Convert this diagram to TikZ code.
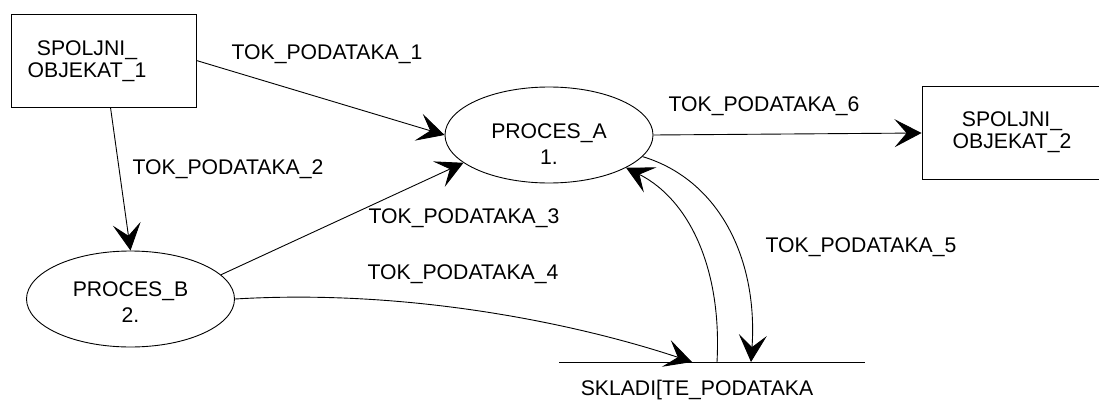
\documentclass[tikz,border=0pt]{standalone}
\usepackage{fontspec}
\setmainfont{Liberation Sans}
\usetikzlibrary{arrows.meta,shapes.geometric}

\begin{document}
\begin{tikzpicture}[x=1pt,y=-1pt,
  every node/.style={font=\fontsize{21.2}{22}\selectfont,inner sep=0pt},
  flow/.style={draw,line width=0.9pt,-{Stealth[length=27pt,width=28pt,inset=12pt]}},
  extobj/.style={draw,line width=0.9pt,minimum width=185pt,minimum height=93pt},
  proc/.style={draw,ellipse,line width=0.9pt,minimum width=208pt,minimum height=96pt},
  ptext/.style={align=center,font=\fontsize{21.2}{26}\selectfont},
  otext/.style={align=center}]
\useasboundingbox (0,0) rectangle (1099,412);
% external objects
\node[extobj] (obj1) at (103.5,60.5) {};
\node[otext] (obj1txt) at (87,61) {SPOLJNI\_\\OBJEKAT\_1};
\node[extobj] (obj2) at (1014.5,133) {};
\node[otext] (obj2txt) at (1012,132) {SPOLJNI\_\\OBJEKAT\_2};
% processes
\node[proc] (pa) at (549,135) {};
\node[ptext] (patxt) at (549,144) {PROCES\_A\\1.};
\node[proc] (pb) at (130.5,299) {};
\node[ptext] (pbtxt) at (130.5,302) {PROCES\_B\\2.};
% data store
\coordinate (stl) at (559,362);
\coordinate (str) at (865,362);
\coordinate (st4) at (692,362);
\coordinate (st5) at (717,362);
\coordinate (st6) at (751,362);
\draw[line width=0.9pt] (stl) -- (str);
\node (sttxt) at (697,390) {SKLADI[TE\_PODATAKA};
% flows
\draw[flow] (obj1.east) -- (pa.west);
\draw[flow] ([xshift=7pt]obj1.south) -- (pb.north);
\draw[flow] (pb.15) -- (pa.198);
\draw[flow] (pb.east) .. controls (420,288) and (590,328) .. (st4);
\draw[flow] (st5) .. controls (722,270) and (690,200) .. (pa.337);
\draw[flow] (pa.347) .. controls (720,180) and (758,260) .. (st6);
\draw[flow] (pa.east) -- (obj2.west);
% flow labels
\node (tok1) at (327,54) {TOK\_PODATAKA\_1};
\node (tok2) at (228,169) {TOK\_PODATAKA\_2};
\node (tok3) at (464,218) {TOK\_PODATAKA\_3};
\node (tok4) at (463,274) {TOK\_PODATAKA\_4};
\node (tok5) at (861,247) {TOK\_PODATAKA\_5};
\node (tok6) at (764,106) {TOK\_PODATAKA\_6};
\end{tikzpicture}
\end{document}
